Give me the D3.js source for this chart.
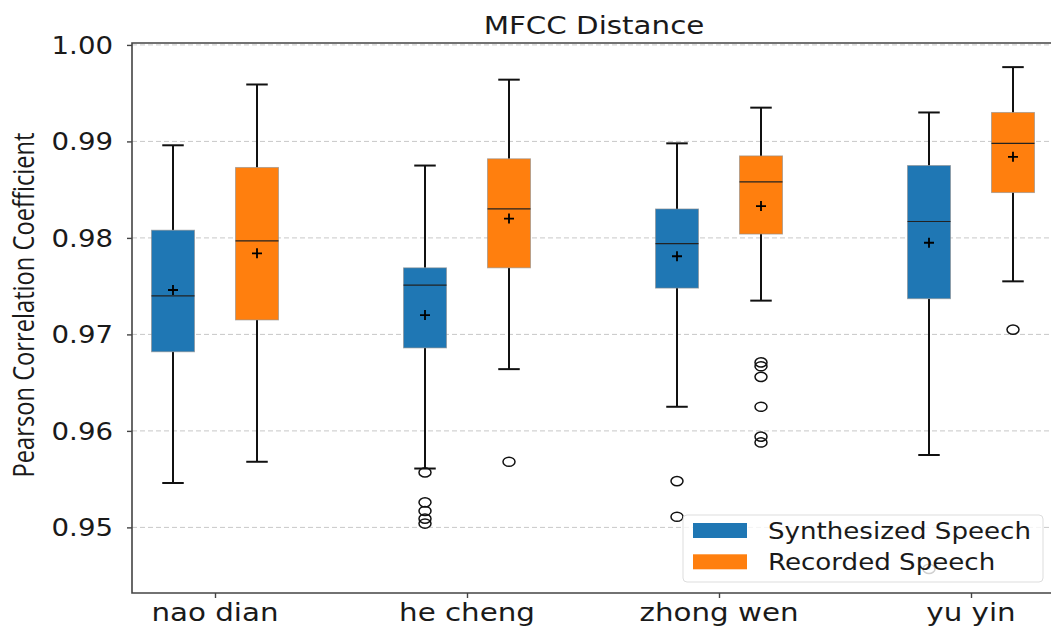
<!DOCTYPE html>
<meta charset="utf-8">
<script src="https://d3js.org/d3.v7.min.js"></script>
<style>
  body { margin: 0; background: #fff; }
  text { font-family: "DejaVu Sans", sans-serif; fill: #1a1a1a; }
</style>
<body></body>
<script>

// categories and series
var categories = ["nao dian", "he cheng", "zhong wen", "yu yin"];
var seriesNames = ["Synthesized Speech", "Recorded Speech"];
var seriesColors = ["#1f77b4", "#ff7f0e"];

// Synthesized speech box stats
var synthLow    = [0.9546, 0.9561, 0.9625, 0.9575];
var synthQ1     = [0.9682, 0.9686, 0.9748, 0.9737];
var synthMedian = [0.9740, 0.9751, 0.9794, 0.9817];
var synthQ3     = [0.9808, 0.9769, 0.9830, 0.9875];
var synthHigh   = [0.9896, 0.9875, 0.9898, 0.9930];
var synthMean   = [0.9746, 0.9720, 0.9781, 0.9795];
var synthOutliers = [[], [0.9557, 0.9526, 0.9517, 0.9509, 0.9504], [0.9548, 0.9511], [0.9457]];

// Recorded speech box stats
var recLow    = [0.9568, 0.9664, 0.9735, 0.9755];
var recQ1     = [0.9715, 0.9769, 0.9804, 0.9847];
var recMedian = [0.9797, 0.9830, 0.9858, 0.9898];
var recQ3     = [0.9873, 0.9882, 0.9885, 0.9930];
var recHigh   = [0.9959, 0.9964, 0.9935, 0.9977];
var recMean   = [0.9784, 0.9820, 0.9833, 0.9884];
var recOutliers = [[], [0.9568], [0.9671, 0.9667, 0.9656, 0.9625, 0.9594, 0.9588], [0.9705]];

var yTicks = [0.95, 0.96, 0.97, 0.98, 0.99, 1.00];

var width = 1051, height = 628;
var plotL = 132, plotR = 1062, plotT = 43, plotB = 593;
var stretch = 1.15;   // the picture is a bit wider than tall

var svg = d3.select("body").append("svg")
    .attr("width", width)
    .attr("height", height);

var y = d3.scaleLinear().domain([0.9432, 1.0002]).range([plotB, plotT]);
var x = d3.scalePoint().domain(categories).range([215, 971]);
var xSub = d3.scalePoint().domain(seriesNames).range([-42, 42]);
var boxW = 43;

// build one table of boxes from the arrays
var boxes = [];
categories.forEach(function(c, i) {
  boxes.push({cat: c, s: 0, lo: synthLow[i], q1: synthQ1[i], med: synthMedian[i], q3: synthQ3[i], hi: synthHigh[i], mean: synthMean[i], out: synthOutliers[i]});
  boxes.push({cat: c, s: 1, lo: recLow[i], q1: recQ1[i], med: recMedian[i], q3: recQ3[i], hi: recHigh[i], mean: recMean[i], out: recOutliers[i]});
});
function cx(d) { return x(d.cat) + xSub(seriesNames[d.s]); }

// grid
svg.append("g")
    .selectAll("line").data(yTicks).enter().append("line")
    .attr("x1", plotL).attr("x2", plotR)
    .attr("y1", function(d) { return y(d); })
    .attr("y2", function(d) { return y(d); })
    .attr("stroke", "#c8c8c8")
    .attr("stroke-width", 1)
    .attr("stroke-dasharray", "5,3");

// whiskers
var g = svg.append("g");
g.selectAll(".wlo").data(boxes).enter().append("line")
    .attr("x1", cx).attr("x2", cx)
    .attr("y1", function(d) { return y(d.lo); })
    .attr("y2", function(d) { return y(d.q1); })
    .attr("stroke", "#111").attr("stroke-width", 2);
g.selectAll(".whi").data(boxes).enter().append("line")
    .attr("x1", cx).attr("x2", cx)
    .attr("y1", function(d) { return y(d.hi); })
    .attr("y2", function(d) { return y(d.q3); })
    .attr("stroke", "#111").attr("stroke-width", 2);
// caps
["lo", "hi"].forEach(function(k) {
  g.selectAll(".cap" + k).data(boxes).enter().append("line")
      .attr("x1", function(d) { return cx(d) - boxW / 4; })
      .attr("x2", function(d) { return cx(d) + boxW / 4; })
      .attr("y1", function(d) { return y(d[k]); })
      .attr("y2", function(d) { return y(d[k]); })
      .attr("stroke", "#111").attr("stroke-width", 2);
});

// boxes
g.selectAll("rect").data(boxes).enter().append("rect")
    .attr("x", function(d) { return cx(d) - boxW / 2; })
    .attr("width", boxW)
    .attr("y", function(d) { return y(d.q3); })
    .attr("height", function(d) { return y(d.q1) - y(d.q3); })
    .attr("fill", function(d) { return seriesColors[d.s]; })
    .attr("stroke", "rgba(140,140,140,0.6)")
    .attr("stroke-width", 1);

// medians
g.selectAll(".med").data(boxes).enter().append("line")
    .attr("x1", function(d) { return cx(d) - boxW / 2; })
    .attr("x2", function(d) { return cx(d) + boxW / 2; })
    .attr("y1", function(d) { return y(d.med); })
    .attr("y2", function(d) { return y(d.med); })
    .attr("stroke", "#222").attr("stroke-width", 1.2);

// means as "+"
g.selectAll(".mean").data(boxes).enter().append("path")
    .attr("d", function(d) {
      var px = cx(d), py = y(d.mean);
      return "M" + (px - 5) + "," + py + "H" + (px + 5) + "M" + px + "," + (py - 5) + "V" + (py + 5);
    })
    .attr("stroke", "#000").attr("stroke-width", 1.8);

// outliers
var outs = [];
boxes.forEach(function(d) { d.out.forEach(function(v) { outs.push({box: d, v: v}); }); });
g.selectAll("ellipse").data(outs).enter().append("ellipse")
    .attr("cx", function(d) { return cx(d.box); })
    .attr("cy", function(d) { return y(d.v); })
    .attr("rx", 6).attr("ry", 4.6)
    .attr("fill", "none")
    .attr("stroke", "#111").attr("stroke-width", 1.5);

// frame
svg.append("path")
    .attr("d", "M" + plotR + "," + plotT + "H" + plotL + "V" + plotB + "H" + plotR)
    .attr("fill", "none").attr("stroke", "#444").attr("stroke-width", 1.6);

// y axis
var yAxis = svg.append("g")
    .attr("transform", "translate(" + plotL + ",0)")
    .call(d3.axisLeft(y).tickValues(yTicks).tickSize(5).tickFormat(d3.format(".2f")));
yAxis.select(".domain").remove();
yAxis.selectAll("line").attr("stroke", "#444").attr("stroke-width", 1.4);
yAxis.selectAll("text").remove();
svg.append("g").selectAll("text").data(yTicks).enter().append("text")
    .attr("transform", function(d) { return "translate(113," + y(d) + ") scale(" + stretch + ",1)"; })
    .attr("text-anchor", "end")
    .attr("dy", "0.36em")
    .style("font-size", "24px")
    .text(d3.format(".2f"));

// x axis
var xAxis = svg.append("g")
    .attr("transform", "translate(0," + plotB + ")")
    .call(d3.axisBottom(x).tickSize(5));
xAxis.select(".domain").remove();
xAxis.selectAll("line").attr("stroke", "#444").attr("stroke-width", 1.4);
xAxis.selectAll("text").remove();
svg.append("g").selectAll("text").data(categories).enter().append("text")
    .attr("transform", function(d) { return "translate(" + x(d) + ",621) scale(" + stretch + ",1)"; })
    .attr("text-anchor", "middle")
    .style("font-size", "25.5px")
    .text(function(d) { return d; });

// title
svg.append("text")
    .attr("transform", "translate(594,34) scale(" + stretch + ",1)")
    .attr("text-anchor", "middle")
    .style("font-size", "25.5px")
    .text("MFCC Distance");

// y label
svg.append("text")
    .attr("transform", "translate(34,305) scale(" + stretch + ",1) rotate(-90)")
    .attr("text-anchor", "middle")
    .attr("textLength", 345)
    .attr("lengthAdjust", "spacingAndGlyphs")
    .style("font-family", "'Open Sans', sans-serif")
    .style("font-size", "26px")
    .text("Pearson Correlation Coefficient");

// legend
var lg = svg.append("g");
lg.append("rect")
    .attr("x", 683).attr("y", 515).attr("width", 360).attr("height", 67)
    .attr("rx", 4)
    .attr("fill", "rgba(255,255,255,0.8)")
    .attr("stroke", "#ddd").attr("stroke-width", 1);
seriesNames.forEach(function(name, i) {
  var yy = 530.5 + i * 31.3;
  lg.append("rect")
      .attr("x", 693).attr("y", yy - 7.5).attr("width", 54).attr("height", 15)
      .attr("fill", seriesColors[i]);
  lg.append("text")
      .attr("transform", "translate(768," + yy + ") scale(" + stretch + ",1)")
      .attr("dy", "0.36em")
      .style("font-size", "22.7px")
      .text(name);
});

</script>
</html>
